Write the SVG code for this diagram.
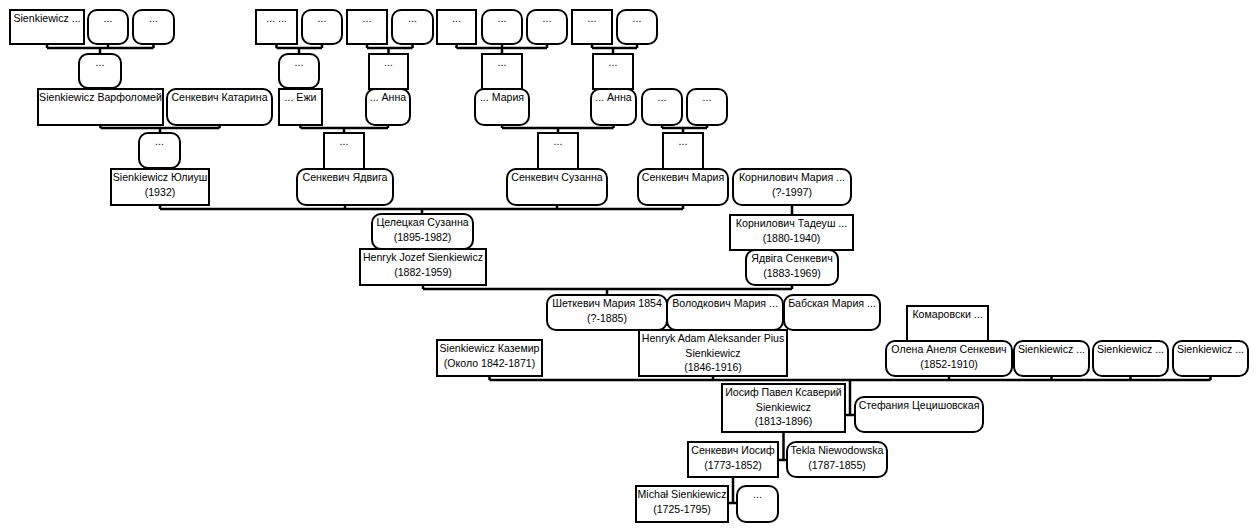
<svg xmlns="http://www.w3.org/2000/svg" width="1257" height="532" viewBox="0 0 1257 532">
<style>
.b{fill:#fff;stroke:#000;stroke-width:2}
.c{fill:none;stroke:#000;stroke-width:2.5}
text{font-family:"Liberation Sans",Arial,sans-serif;font-size:10.6px;fill:#000;text-anchor:middle}
</style>
<rect width="1257" height="532" fill="#fff"/>
<g id="connectors">
<path class="c" d="M47,44V48M108,44V48M153.5,44V48M47,48H153.5M100,48V54
M276.5,44V48M322,44V48M276.5,48H322M299,48V54
M367,44V48M412.5,44V48M367,48H412.5M388.5,48V54
M456.5,44V48M502,44V48M547,44V48M456.5,48H547M502,48V54
M592,44V48M637,44V48M592,48H637M613,48V54
M100.5,125V128M219.5,125V128M100.5,128H219.5M160,128V133
M300.5,125V128M388,125V128M300.5,128H388M344,128V133
M502,125V128M613.5,125V128M502,128H613.5M558,128V133
M662,125V128M707,125V128M662,128H707M683,128V133
M160,205V209M345,205V209M557,205V209M683,205V209M160,209H683M422,209V214
M792,205V215
M423,285V289M792,285V289M423,289H792M607,289V295
M489.5,376V380M713,376V380M949,376V380M1051.5,376V380M1130.5,376V380M1210.5,376V380M489.5,380H1210.5M850,380V415M845,415H855
M783.5,432V460M778,460H787
M733,477V503M728,503H737"/>
</g>
<g id="n1"><rect class="b" x="10" y="10" width="74" height="34"/><text x="47" y="22">Sienkiewicz ...</text></g>
<g id="n2"><rect class="b" x="88" y="10" width="40" height="34" rx="9"/><text x="108" y="22">...</text></g>
<g id="n3"><rect class="b" x="133" y="10" width="41" height="34" rx="9"/><text x="153.5" y="22">...</text></g>
<g id="n4"><rect class="b" x="256" y="10" width="41" height="34"/><text x="276.5" y="22">... ...</text></g>
<g id="n5"><rect class="b" x="302" y="10" width="40" height="34" rx="9"/><text x="322" y="22">...</text></g>
<g id="n6"><rect class="b" x="347" y="10" width="40" height="34"/><text x="367" y="22">...</text></g>
<g id="n7"><rect class="b" x="392" y="10" width="41" height="34" rx="9"/><text x="412.5" y="22">...</text></g>
<g id="n8"><rect class="b" x="437" y="10" width="39" height="34"/><text x="456.5" y="22">...</text></g>
<g id="n9"><rect class="b" x="482" y="10" width="40" height="34" rx="9"/><text x="502" y="22">...</text></g>
<g id="n10"><rect class="b" x="527" y="10" width="40" height="34" rx="9"/><text x="547" y="22">...</text></g>
<g id="n11"><rect class="b" x="572" y="10" width="40" height="34"/><text x="592" y="22">...</text></g>
<g id="n12"><rect class="b" x="617" y="10" width="40" height="34" rx="9"/><text x="637" y="22">...</text></g>

<g id="m1"><rect class="b" x="79" y="54" width="42" height="34" rx="9"/><text x="100" y="66">...</text></g>
<g id="m2"><rect class="b" x="279" y="54" width="40" height="34" rx="9"/><text x="299" y="66">...</text></g>
<g id="m3"><rect class="b" x="369" y="54" width="39" height="35"/><text x="388.5" y="66">...</text></g>
<g id="m4"><rect class="b" x="482" y="54" width="40" height="35"/><text x="502" y="66">...</text></g>
<g id="m5"><rect class="b" x="593" y="54" width="40" height="35"/><text x="613" y="66">...</text></g>

<g id="r1"><rect class="b" x="38" y="89" width="125" height="36"/><text x="100.5" y="101">Sienkiewicz Варфоломей</text></g>
<g id="r2"><rect class="b" x="167" y="89" width="105" height="36" rx="9"/><text x="219.5" y="101">Сенкевич Катарина</text></g>
<g id="r3"><rect class="b" x="279" y="89" width="43" height="36"/><text x="300.5" y="101">... Ежи</text></g>
<g id="r4"><rect class="b" x="366" y="89" width="44" height="36" rx="9"/><text x="388" y="101">... Анна</text></g>
<g id="r5"><rect class="b" x="475" y="89" width="54" height="36" rx="9"/><text x="502" y="101">... Мария</text></g>
<g id="r6"><rect class="b" x="591" y="89" width="45" height="36" rx="9"/><text x="613.5" y="101">... Анна</text></g>
<g id="r7"><rect class="b" x="642" y="89" width="40" height="36" rx="9"/><text x="662" y="101">...</text></g>
<g id="r8"><rect class="b" x="687" y="89" width="40" height="36" rx="9"/><text x="707" y="101">...</text></g>

<g id="s1"><rect class="b" x="139" y="133" width="41" height="35" rx="9"/><text x="159.5" y="145">...</text></g>
<g id="s2"><rect class="b" x="324" y="133" width="40" height="36"/><text x="344" y="145">...</text></g>
<g id="s3"><rect class="b" x="538" y="133" width="40" height="36"/><text x="558" y="145">...</text></g>
<g id="s4"><rect class="b" x="663" y="133" width="40" height="36"/><text x="683" y="145">...</text></g>

<g id="t1"><rect class="b" x="111" y="169" width="98" height="36"/><text x="160" y="181">Sienkiewicz Юлиуш</text><text x="160" y="195.5">(1932)</text></g>
<g id="t2"><rect class="b" x="297" y="169" width="96" height="36" rx="9"/><text x="345" y="181">Сенкевич Ядвига</text></g>
<g id="t3"><rect class="b" x="507" y="169" width="100" height="36" rx="9"/><text x="557" y="181">Сенкевич Сузанна</text></g>
<g id="t4"><rect class="b" x="638" y="169" width="90" height="36" rx="9"/><text x="683" y="181">Сенкевич Мария</text></g>
<g id="t5"><rect class="b" x="733" y="169" width="118" height="36" rx="9"/><text x="792" y="181">Корнилович Мария ...</text><text x="792" y="195.5">(?-1997)</text></g>

<g id="u1"><rect class="b" x="372" y="214" width="101" height="35" rx="9"/><text x="422.5" y="226">Целецкая Сузанна</text><text x="422.5" y="240.5">(1895-1982)</text></g>
<g id="u2"><rect class="b" x="360" y="249" width="126" height="36"/><text x="423" y="261">Henryk Jozef Sienkiewicz</text><text x="423" y="275.5">(1882-1959)</text></g>
<g id="u3"><rect class="b" x="730" y="215" width="123" height="35"/><text x="791.5" y="227">Корнилович Тадеуш ...</text><text x="791.5" y="241.5">(1880-1940)</text></g>
<g id="u4"><rect class="b" x="746" y="250" width="92" height="35" rx="9"/><text x="792" y="262">Ядвіга Сенкевич</text><text x="792" y="276.5">(1883-1969)</text></g>

<g id="v1"><rect class="b" x="547" y="295" width="120" height="35" rx="9"/><text x="607" y="307">Шеткевич Мария 1854</text><text x="607" y="321.5">(?-1885)</text></g>
<g id="v2"><rect class="b" x="667" y="295" width="116" height="35" rx="9"/><text x="725" y="307">Володкович Мария ...</text></g>
<g id="v3"><rect class="b" x="784" y="295" width="96" height="35" rx="9"/><text x="832" y="307">Бабская Мария ...</text></g>
<g id="v4"><rect class="b" x="639" y="330" width="148" height="46"/><text x="713" y="342">Henryk Adam Aleksander Pius</text><text x="713" y="356.5">Sienkiewicz</text><text x="713" y="371">(1846-1916)</text></g>
<g id="v5"><rect class="b" x="437" y="340" width="105" height="36"/><text x="489.5" y="352">Sienkiewicz Каземир</text><text x="489.5" y="366.5">(Около 1842-1871)</text></g>
<g id="v6"><rect class="b" x="907" y="306" width="81" height="35"/><text x="947.5" y="318">Комаровски ...</text></g>
<g id="v7"><rect class="b" x="886" y="341" width="126" height="35" rx="9"/><text x="949" y="353">Олена Анеля Сенкевич</text><text x="949" y="367.5">(1852-1910)</text></g>
<g id="v8"><rect class="b" x="1014" y="341" width="75" height="35" rx="9"/><text x="1051.5" y="353">Sienkiewicz ...</text></g>
<g id="v9"><rect class="b" x="1093" y="341" width="75" height="35" rx="9"/><text x="1130.5" y="353">Sienkiewicz ...</text></g>
<g id="v10"><rect class="b" x="1173" y="341" width="75" height="35" rx="9"/><text x="1210.5" y="353">Sienkiewicz ...</text></g>

<g id="w1"><rect class="b" x="722" y="384" width="123" height="48"/><text x="783.5" y="396">Иосиф Павел Ксаверий</text><text x="783.5" y="410.5">Sienkiewicz</text><text x="783.5" y="425">(1813-1896)</text></g>
<g id="w2"><rect class="b" x="855" y="397" width="128" height="35" rx="9"/><text x="919" y="409">Стефания Цецишовская</text></g>

<g id="x1"><rect class="b" x="688" y="442" width="90" height="35"/><text x="733" y="454">Сенкевич Иосиф</text><text x="733" y="468.5">(1773-1852)</text></g>
<g id="x2"><rect class="b" x="787" y="442" width="100" height="35" rx="9"/><text x="837" y="454">Tekla Niewodowska</text><text x="837" y="468.5">(1787-1855)</text></g>

<g id="y1"><rect class="b" x="636" y="486" width="92" height="36"/><text x="682" y="498">Michał Sienkiewicz</text><text x="682" y="512.5">(1725-1795)</text></g>
<g id="y2"><rect class="b" x="737" y="486" width="41" height="36" rx="9"/><text x="757.5" y="498">...</text></g>
</svg>
